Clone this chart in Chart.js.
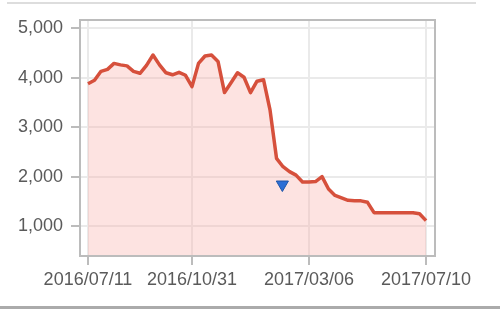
<!DOCTYPE html>
<html>
<head>
<meta charset="utf-8">
<script src="https://cdn.jsdelivr.net/npm/chart.js@4/dist/chart.umd.min.js"></script>
<style>
  html, body { margin: 0; padding: 0; background: #fff; }
  #wrap { width: 500px; height: 309px; position: relative; }
</style>
</head>
<body>
<div id="wrap"><canvas id="chart"></canvas></div>
<script>
// weekly values, one per week from 2016/07/11 to 2017/07/10
const values = [3880, 3950, 4130, 4170, 4290, 4260, 4240, 4130, 4090, 4250,
                4460, 4260, 4100, 4060, 4110, 4050, 3820, 4290, 4440, 4460,
                4330, 3700, 3900, 4100, 4010, 3700, 3930, 3960, 3350, 2370,
                2200, 2100, 2030, 1890, 1890, 1900, 2000, 1750, 1620, 1570,
                1520, 1510, 1510, 1480, 1270, 1270, 1270, 1270, 1270, 1270,
                1270, 1250, 1110];
const tickWeeks = [0, 16, 34, 52];
const tickLabels = ['2016/07/11', '2016/10/31', '2017/03/06', '2017/07/10'];
const yTicks = [1000, 2000, 3000, 4000, 5000];
// blue marker (week index, value)
const markerWeek = [29.9];
const markerValue = [1840];

const lineData = values.map(function(v, i) { return { x: i, y: v }; });
const markerData = markerWeek.map(function(w, i) { return { x: w, y: markerValue[i] }; });

// frame round the plot plus the thin page lines
const framePlugin = {
    id: 'frame',
    beforeDraw: function(chart) {
        const ctx = chart.ctx;
        ctx.save();
        ctx.strokeStyle = '#dddddd';
        ctx.lineWidth = 2;
        ctx.beginPath();
        ctx.moveTo(7, 3);
        ctx.lineTo(476, 3);
        ctx.stroke();
        ctx.strokeStyle = '#ababab';
        ctx.lineWidth = 3;
        ctx.beginPath();
        ctx.moveTo(0, 307.5);
        ctx.lineTo(500, 307.5);
        ctx.stroke();
        ctx.restore();
    },
    afterDraw: function(chart) {
        const a = chart.chartArea;
        const ctx = chart.ctx;
        ctx.save();
        ctx.strokeStyle = '#bcbcbc';
        ctx.lineWidth = 2;
        ctx.strokeRect(a.left, a.top, a.right - a.left, a.bottom - a.top);
        ctx.restore();
    }
};

const labelFont = { family: '"Liberation Sans", Arial, sans-serif', size: 18 };

new Chart(document.getElementById('chart'), {
    type: 'line',
    data: {
        datasets: [{
            data: markerData,
            showLine: false,
            pointStyle: 'triangle',
            rotation: 180,
            pointRadius: 7,
            pointBackgroundColor: '#2d6fd6',
            pointBorderColor: '#1f56a8',
            pointBorderWidth: 1
        }, {
            data: lineData,
            borderColor: '#d6503c',
            borderWidth: 3.5,
            borderJoinStyle: 'round',
            backgroundColor: 'rgba(250, 175, 168, 0.35)',
            fill: 'start',
            pointRadius: 0,
            tension: 0
        }]
    },
    options: {
        responsive: true,
        maintainAspectRatio: false,
        animation: false,
        layout: { padding: { left: 0, top: 20, right: 65, bottom: 0 } },
        plugins: { legend: { display: false }, tooltip: { enabled: false } },
        scales: {
            x: {
                type: 'linear',
                min: -1.23,
                max: 53.38,
                afterBuildTicks: function(scale) {
                    scale.ticks = tickWeeks.map(function(w) { return { value: w }; });
                },
                afterFit: function(scale) { scale.height = 53; },
                ticks: {
                    autoSkip: false,
                    maxRotation: 0,
                    padding: 4,
                    color: '#5a5a5a',
                    font: labelFont,
                    callback: function(value) {
                        const k = tickWeeks.indexOf(value);
                        return k >= 0 ? tickLabels[k] : '';
                    }
                },
                grid: { color: '#eaeaea', lineWidth: 2, tickLength: 9, tickColor: '#bcbcbc', tickWidth: 2 },
                border: { display: false }
            },
            y: {
                min: 394,
                max: 5168,
                afterBuildTicks: function(scale) {
                    scale.ticks = yTicks.map(function(v) { return { value: v }; });
                },
                afterFit: function(scale) { scale.width = 80; },
                ticks: {
                    padding: 8,
                    color: '#5a5a5a',
                    font: labelFont,
                    callback: function(value) { return value.toLocaleString('en-US'); }
                },
                grid: { color: '#eaeaea', lineWidth: 2, tickLength: 9, tickColor: '#bcbcbc', tickWidth: 2 },
                border: { display: false }
            }
        }
    },
    plugins: [framePlugin]
});
</script>
</body>
</html>
